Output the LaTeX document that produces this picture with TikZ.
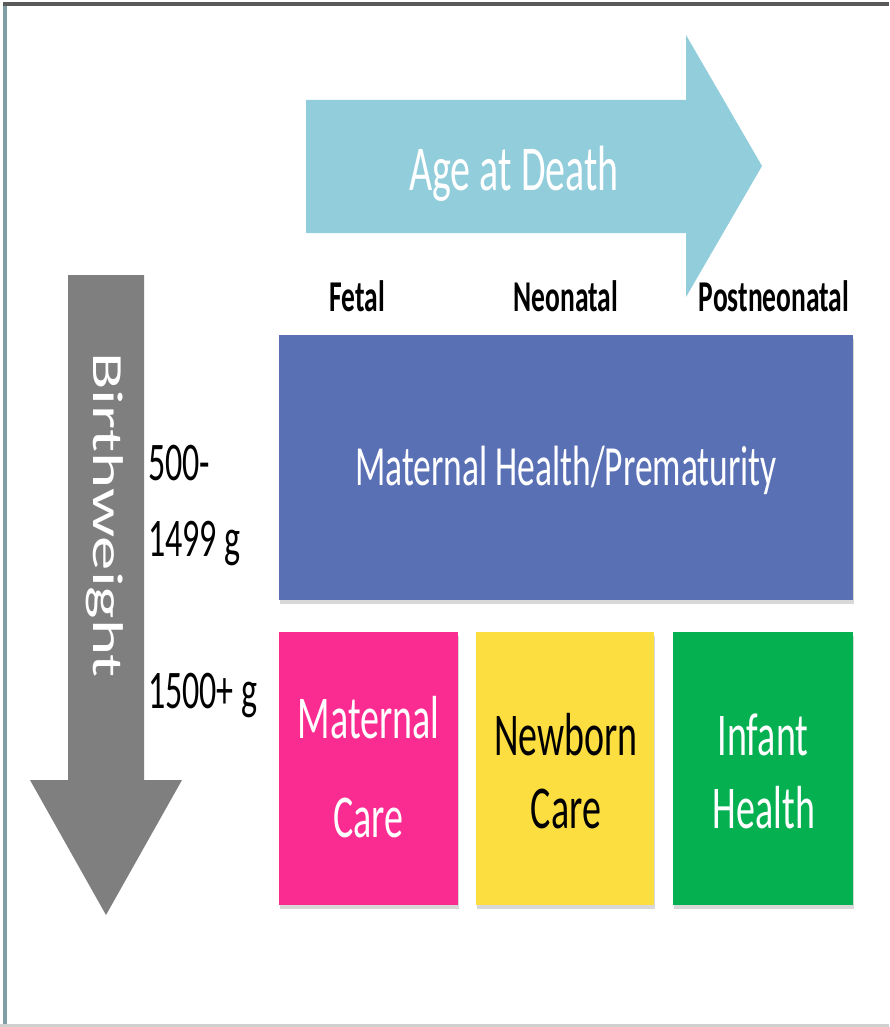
\documentclass[tikz,border=0pt]{standalone}
\usepackage{fontspec}
\setmainfont{Carlito}
\usepackage{graphicx}
\usetikzlibrary{shadows}
\definecolor{agecol}{HTML}{92CDDC}
\definecolor{bwcol}{HTML}{7F7F7F}
\definecolor{mhpcol}{HTML}{5A70B5}
\definecolor{pinkcol}{HTML}{FB2C91}
\definecolor{yellowcol}{HTML}{FDDE40}
\definecolor{greencol}{HTML}{04B050}
\definecolor{frameleft}{HTML}{7F9EA3}
\definecolor{frametop}{HTML}{5A5A5A}
\definecolor{framebot}{HTML}{D0D0D0}
\newcommand{\vst}[1]{\scalebox{1}[1.6]{#1}}
\begin{document}
\begin{tikzpicture}[x=1pt,y=-1pt,
  txt/.style={inner sep=0pt, outer sep=0pt, anchor=base},
  boxtxt/.style={txt, font=\fontsize{38}{45}\selectfont},
  lbl/.style={txt, font=\fontsize{34}{40}\selectfont, anchor=base west},
  agelbl/.style={txt, font=\bfseries\fontsize{27.5}{33}\selectfont},
  colbox/.style={draw=none, inner sep=0pt, outer sep=0pt,
    drop shadow={shadow xshift=1pt, shadow yshift=-4pt, opacity=0.3}},
]
\useasboundingbox (0,0) rectangle (889,1027);
\fill[white] (0,0) rectangle (889,1027);
% frame
\fill[frameleft] (3,3) rectangle (7,1027);
\fill[frametop] (3,2) rectangle (889,6);
\fill[framebot] (0,1024) rectangle (889,1027);

% Age at Death arrow
\fill[agecol] (306,100) -- (686,100) -- (686,35) -- (762,166) -- (686,297)
  -- (686,233) -- (306,233) -- cycle;
\node[txt, text=white, font=\fontsize{40}{48}\selectfont] (age) at (514,190) {\vst{Age at Death}};

% Birthweight arrow
\fill[bwcol] (68,275) -- (144,275) -- (144,780) -- (182,780) -- (106,915)
  -- (30,780) -- (68,780) -- cycle;
\node[txt, text=white, rotate=-90, font=\fontsize{43}{50}\selectfont] (bw) at (93,515) {\scalebox{1.6}[1]{Birthweight}};

% column labels
\node[agelbl] (fetal) at (357,311) {\vst{Fetal}};
\node[agelbl] (neo) at (566,311) {\vst{Neonatal}};
\node[agelbl] (post) at (774,311) {\vst{Postneonatal}};

% row labels
\node[lbl] (r1a) at (148,480) {\vst{500-}};
\node[lbl] (r1b) at (148,556) {\vst{1499 g}};
\node[lbl] (r2) at (148,708) {\vst{1500+ g}};

% boxes
\node[colbox, fill=mhpcol, minimum width=574pt, minimum height=265pt] (mhp) at (566,467.5) {};
\node[txt, text=white, font=\fontsize{35.5}{42}\selectfont] (mhptext) at (566,485) {\vst{Maternal Health/Prematurity}};

\node[colbox, fill=pinkcol, minimum width=179pt, minimum height=273pt] (mc) at (368.5,768.5) {};
\node[boxtxt, text=white] (mc1) at (368.5,738) {\vst{Maternal}};
\node[boxtxt, text=white] (mc2) at (368.5,837) {\vst{Care}};

\node[colbox, fill=yellowcol, minimum width=178pt, minimum height=273pt] (nc) at (565,768.5) {};
\node[boxtxt, text=black] (nc1) at (566,755) {\vst{Newborn}};
\node[boxtxt, text=black] (nc2) at (566,828) {\vst{Care}};

\node[colbox, fill=greencol, minimum width=180pt, minimum height=273pt] (ih) at (763,768.5) {};
\node[boxtxt, text=white] (ih1) at (763,755) {\vst{Infant}};
\node[boxtxt, text=white] (ih2) at (764,828) {\vst{Health}};
\end{tikzpicture}
\end{document}
